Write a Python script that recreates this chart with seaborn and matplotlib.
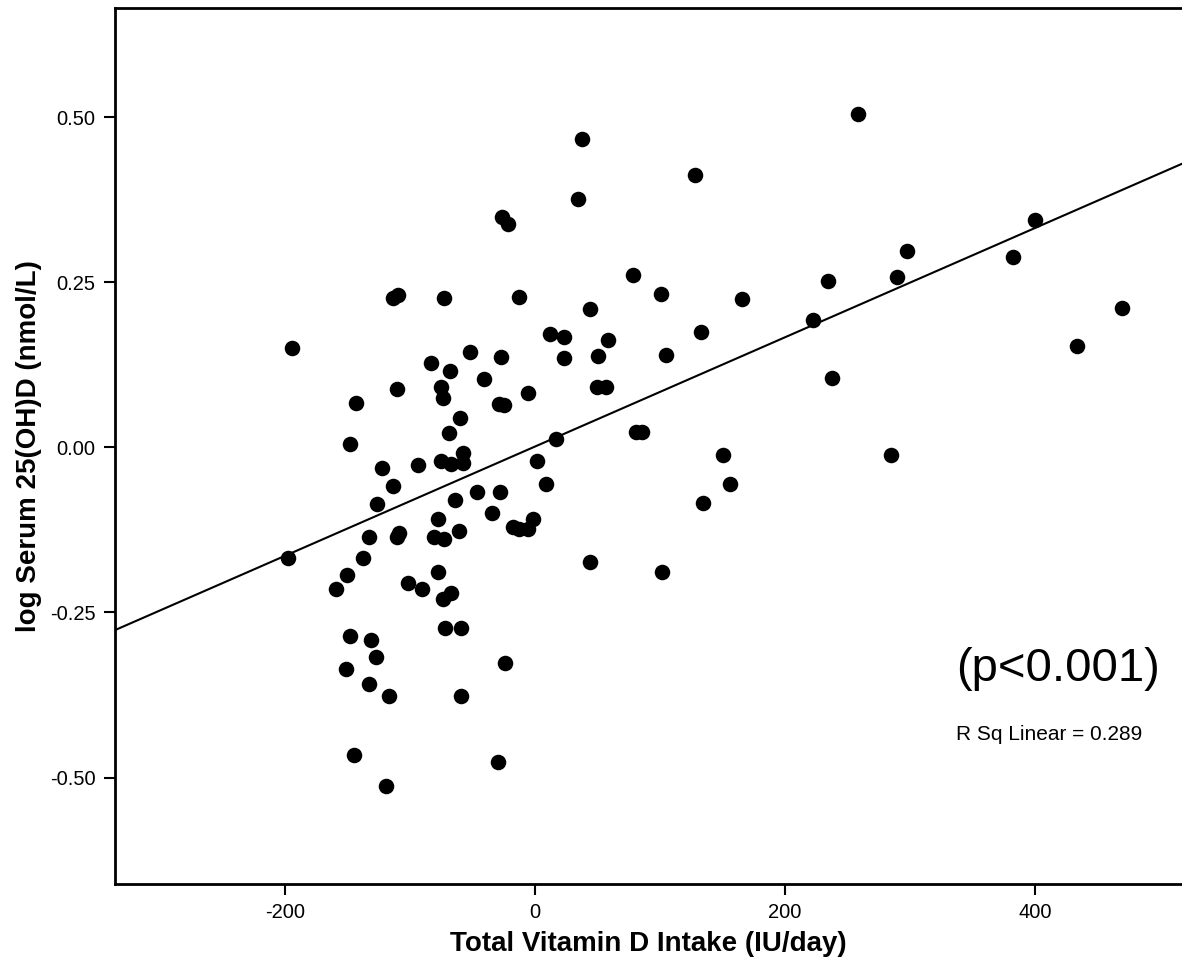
import matplotlib
matplotlib.use("Agg")
import matplotlib.pyplot as plt
import seaborn as sns
import numpy as np
import pandas as pd

# Total vitamin D intake (IU/day) — centred values
intake = [
    -26.4, -21.6, -113.6, -109.6, -72.8, -194.4, -52.0, -83.2, -68.0, -40.8,
    -27.2, -110.4, -75.2, -73.6, -143.2, -60.0, -28.8, -24.8, -68.8, -148.0,
    -57.6, -75.2, -67.2, -57.6, -122.4, -93.6, -113.6, -126.4, -46.4, -64.0,
    -28.0, -34.4, -77.6, -132.8, -108.8, -110.4, -80.8, -72.8, -60.8, -197.6,
    -137.6, -150.4, -159.2, -101.6, -90.4, -77.6, -73.6, -67.2, -72.0, -59.2,
    -148.0, -131.2, -127.2, -151.2, -132.8, -116.8, -59.2, -24.0, -144.8, -119.2,
    -29.6,
    37.6, 128.0, 34.4, 78.4, 100.8, -12.8, 44.0, 12.0, 23.2, 58.4,
    132.8, 23.2, 50.4, 104.8, 49.6, 56.8, -5.6, 80.8, 85.6, 16.8,
    1.6, 150.4, 8.8, 156.0, 134.4, -1.6, -17.6, -12.8, -5.6, 44.0,
    101.6,
    258.4, 297.6, 289.6, 400.0, 382.4, 469.6, 433.6, 284.8, 234.4, 222.4,
    237.6, 165.6,
]

# log serum 25(OH)D (nmol/L)
log_serum = [
    0.348, 0.338, 0.226, 0.230, 0.226, 0.150, 0.145, 0.127, 0.115, 0.103,
    0.136, 0.088, 0.092, 0.074, 0.067, 0.044, 0.065, 0.064, 0.021, 0.005,
    -0.008, -0.021, -0.026, -0.023, -0.032, -0.027, -0.059, -0.086, -0.068, -0.079,
    -0.068, -0.100, -0.109, -0.135, -0.129, -0.136, -0.135, -0.139, -0.127, -0.167,
    -0.167, -0.194, -0.214, -0.205, -0.214, -0.188, -0.229, -0.220, -0.273, -0.274,
    -0.285, -0.291, -0.317, -0.336, -0.358, -0.377, -0.377, -0.326, -0.465, -0.512,
    -0.477,
    0.467, 0.412, 0.376, 0.261, 0.232, 0.227, 0.209, 0.171, 0.167, 0.162,
    0.174, 0.135, 0.138, 0.139, 0.091, 0.091, 0.082, 0.023, 0.023, 0.012,
    -0.020, -0.012, -0.056, -0.056, -0.085, -0.109, -0.121, -0.124, -0.124, -0.173,
    -0.189,
    0.505, 0.297, 0.258, 0.344, 0.288, 0.211, 0.153, -0.011, 0.252, 0.192,
    0.105, 0.224,
]

x_ticks = [-200, 0, 200, 400]
x_tick_labels = ["-200", "0", "200", "400"]
y_ticks = [-0.50, -0.25, 0.00, 0.25, 0.50]
y_tick_labels = ["-0.50", "-0.25", "0.00", "0.25", "0.50"]

x_label = "Total Vitamin D Intake (IU/day)"
y_label = "log Serum 25(OH)D (nmol/L)"
p_text = "(p<0.001)"
r2_text = "R Sq Linear = 0.289"

df = pd.DataFrame({"intake": intake, "log_serum": log_serum})

sns.set_theme(style="ticks")
plt.rcParams["font.family"] = ["Liberation Sans", "DejaVu Sans"]

fig = plt.figure(figsize=(11.82, 9.68), dpi=100)
ax = fig.add_axes([115 / 1182, 84 / 968, 1067 / 1182, 876 / 968])

xlim = (-336, 517.6)
ylim = (-0.661, 0.665)
ax.set_xlim(*xlim)
ax.set_ylim(*ylim)

sns.regplot(
    data=df, x="intake", y="log_serum", ax=ax, ci=None, truncate=False,
    scatter_kws=dict(s=125, color="black", linewidths=0, alpha=1),
    line_kws=dict(color="black", lw=1.5),
)
ax.set_xlim(*xlim)
ax.set_ylim(*ylim)

ax.set_xticks(x_ticks)
ax.set_xticklabels(x_tick_labels)
ax.set_yticks(y_ticks)
ax.set_yticklabels(y_tick_labels)
ax.tick_params(axis="both", direction="out", length=8, width=1.5,
               labelsize=14.5, color="black", labelcolor="black", pad=6)

for side in ["left", "bottom", "top"]:
    ax.spines[side].set_linewidth(2)
    ax.spines[side].set_color("black")
ax.spines["right"].set_visible(False)

ax.set_xlabel(x_label, fontsize=20, fontweight="bold", color="black", labelpad=6)
ax.set_ylabel(y_label, fontsize=20, fontweight="bold", color="black", labelpad=6)

ax.text(337, -0.335, p_text, fontsize=34, color="black", ha="left", va="center")
ax.text(337, -0.435, r2_text, fontsize=15, color="black", ha="left", va="center")

fig.savefig("out.png", dpi=100)
